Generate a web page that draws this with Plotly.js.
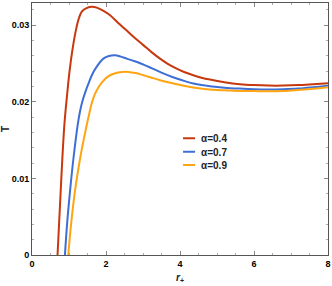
<!DOCTYPE html>
<html><head><meta charset="utf-8">
<script src="https://cdn.plot.ly/plotly-3.0.1.min.js"></script>
<style>html,body{margin:0;padding:0;background:#fff}#chart{width:332px;height:286px}</style>
</head><body><div id="chart"></div>
<script>
const seriesNames = ["α=0.4", "α=0.7", "α=0.9"];
const colors = ["#C8380E", "#3D6FD6", "#FFA412"];

const x04 = [0.69, 0.73, 0.775, 0.82, 0.875, 0.94, 1.02, 1.10, 1.18, 1.26, 1.35, 1.46, 1.60, 1.75, 1.92, 2.11, 2.33, 2.56, 2.78, 3.01, 3.23, 3.46, 3.68, 3.91, 4.13, 4.36, 4.58, 4.81, 5.2, 5.62, 6.0, 6.4, 6.8, 7.2, 7.6, 8.0];
const T04 = [0.0, 0.0039, 0.0083, 0.0126, 0.0170, 0.0205, 0.0242, 0.0270, 0.0292, 0.0308, 0.0318, 0.0322, 0.0324, 0.0323, 0.0319, 0.0313, 0.0303, 0.0293, 0.02833, 0.0274, 0.02649, 0.02564, 0.02493, 0.02434, 0.02386, 0.02347, 0.02315, 0.0229, 0.02256, 0.0223, 0.02218, 0.02212, 0.02212, 0.02218, 0.0223, 0.02243];

const x07 = [0.89, 0.946, 1.027, 1.12, 1.235, 1.30, 1.37, 1.45, 1.52, 1.63, 1.75, 1.93, 2.08, 2.24, 2.40, 2.56, 2.78, 3.01, 3.23, 3.46, 3.68, 3.91, 4.13, 4.36, 4.58, 4.81, 5.2, 5.62, 6.0, 6.4, 6.8, 7.2, 7.6, 8.0];
const T07 = [0.0, 0.0039, 0.0083, 0.0126, 0.0170, 0.0188, 0.0202, 0.0214, 0.0223, 0.0236, 0.0246, 0.02564, 0.02598, 0.02608, 0.0259, 0.02564, 0.0253, 0.02486, 0.0244, 0.0239, 0.02345, 0.02304, 0.0227, 0.02239, 0.02218, 0.02203, 0.02185, 0.02173, 0.02165, 0.02162, 0.02165, 0.02173, 0.0219, 0.0221];

const x09 = [0.98, 1.054, 1.16, 1.30, 1.39, 1.48, 1.55, 1.62, 1.70, 1.81, 1.92, 2.04, 2.17, 2.3, 2.45, 2.6, 2.8, 3.01, 3.23, 3.46, 3.68, 3.91, 4.13, 4.36, 4.58, 4.81, 5.2, 5.62, 6.0, 6.4, 6.8, 7.2, 7.6, 8.0];
const T09 = [0.0, 0.0039, 0.0083, 0.0126, 0.0149, 0.0170, 0.0185, 0.0199, 0.0210, 0.0220, 0.0227, 0.02325, 0.0236, 0.0238, 0.0239, 0.0239, 0.02375, 0.02347, 0.02315, 0.02282, 0.02255, 0.0223, 0.02206, 0.02186, 0.02172, 0.0216, 0.0215, 0.02142, 0.0214, 0.02138, 0.02142, 0.02155, 0.0217, 0.0219];

const xs = [x04, x07, x09];
const ys = [T04, T07, T09];
const legendIds = ["legend", "legend2", "legend3"];
const legendYs = [0.463, 0.41, 0.357];

const traces = xs.map((x, i) => ({
  x: x, y: ys[i], type: "scatter", mode: "lines", name: seriesNames[i], legend: legendIds[i],
  line: {color: colors[i], width: 2, shape: "spline", smoothing: 1}
}));

const fontFam = "Liberation Sans, Arial, sans-serif";
const axisCommon = {
  showgrid: false, zeroline: false, showline: true, mirror: "allticks",
  linecolor: "#555", linewidth: 1, ticks: "inside", ticklen: 4, tickcolor: "#888",
  tickfont: {family: fontFam, size: 9, color: "#000", weight: "bold"}
};

function legendAt(y) {
  return {x: 0.436, y: y, xanchor: "left", yanchor: "middle", bgcolor: "rgba(0,0,0,0)", borderwidth: 0,
    font: {family: fontFam, size: 10, color: "#222", weight: "bold"}, itemwidth: 30};
}

const layout = {
  width: 332, height: 286,
  margin: {l: 32, r: 4, t: 3, b: 31},
  paper_bgcolor: "#fff", plot_bgcolor: "#fff",
  showlegend: true,
  legend: legendAt(legendYs[0]),
  legend2: legendAt(legendYs[1]),
  legend3: legendAt(legendYs[2]),
  xaxis: Object.assign({}, axisCommon, {range: [0, 8], tickvals: [0, 2, 4, 6, 8], ticktext: ["0","2","4","6","8"],
    minor: {dtick: 0.5, ticks: "inside", ticklen: 2, tickcolor: "#aaa", showgrid: false},
    title: {text: "<i>r</i><sub>+</sub>", standoff: 6, font: {family: fontFam, size: 10, color: "#222", weight: "bold"}}}),
  yaxis: Object.assign({}, axisCommon, {range: [0, 0.0329], tickvals: [0, 0.01, 0.02, 0.03], ticktext: ["0","0.01","0.02","0.03"],
    minor: {dtick: 0.002, ticks: "inside", ticklen: 2, tickcolor: "#aaa", showgrid: false},
    title: {text: "T", standoff: 4, font: {family: fontFam, size: 10, color: "#222", weight: "bold"}}})
};

Plotly.newPlot("chart", traces, layout, {displayModeBar: false, staticPlot: true}).then(function () {
  document.querySelectorAll("#chart .legendlines path").forEach(function (p) {
    p.setAttribute("d", "M22,0h12");
  });
});
</script></body></html>
